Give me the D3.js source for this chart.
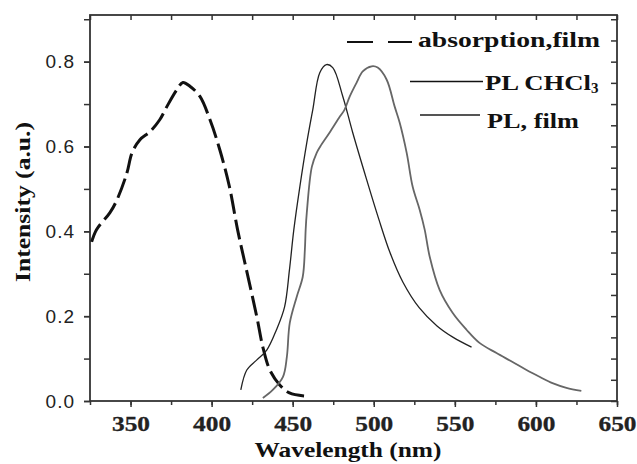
<!DOCTYPE html>
<html>
<head>
<meta charset="utf-8">
<script src="https://cdn.jsdelivr.net/npm/d3@7"></script>
<style>
  body { margin: 0; background: #fff; }
  svg { display: block; }
</style>
</head>
<body>
<div id="chart"></div>
<script>
// absorption, film (dashed)
const absWl = [326, 329, 337.3, 341.6, 347.8, 350.9, 355.8, 362, 368, 372.4, 378.6, 382.3, 386.6, 392.8, 399, 405, 411, 416, 420.5, 427.9, 431.6, 435.9, 442, 448, 457];
const absVal = [0.375, 0.404, 0.444, 0.474, 0.538, 0.585, 0.616, 0.635, 0.663, 0.694, 0.734, 0.751, 0.742, 0.718, 0.663, 0.593, 0.505, 0.404, 0.326, 0.198, 0.127, 0.073, 0.038, 0.019, 0.012];

// PL in CHCl3 (solid)
const plSolWl = [418, 421.7, 427.9, 434, 440, 445, 448, 450.7, 454.4, 458.7, 462.4, 466.7, 470.8, 474.7, 480.9, 487, 495.6, 503, 510, 518, 528, 539, 549, 560.3];
const plSolVal = [0.026, 0.073, 0.097, 0.12, 0.168, 0.222, 0.309, 0.404, 0.505, 0.609, 0.687, 0.774, 0.793, 0.786, 0.718, 0.633, 0.522, 0.43, 0.35, 0.28, 0.22, 0.177, 0.15, 0.127];

// PL, film (grey)
const plFilmWl = [431.6, 437.7, 444, 446.4, 448.2, 452.5, 456.2, 457.5, 458, 458.7, 461.8, 464.8, 467, 472.8, 479, 482, 485.2, 489.5, 493.2, 498.7, 502.4, 507.9, 512.9, 516, 520.3, 524, 528.3, 531.4, 534.5, 540.6, 548.6, 557.2, 565.2, 575.7, 585.6, 594.2, 602.2, 610.2, 618.8, 628];
const plFilmVal = [0.007, 0.026, 0.057, 0.104, 0.184, 0.246, 0.293, 0.356, 0.404, 0.444, 0.552, 0.585, 0.6, 0.633, 0.670, 0.687, 0.718, 0.751, 0.777, 0.789, 0.786, 0.758, 0.694, 0.656, 0.585, 0.505, 0.451, 0.404, 0.34, 0.262, 0.208, 0.168, 0.137, 0.113, 0.092, 0.073, 0.057, 0.042, 0.031, 0.024];

const xTicks = [350, 400, 450, 500, 550, 600, 650];
const yTicks = [0.0, 0.2, 0.4, 0.6, 0.8];
const legendLabels = ['absorption,film', 'PL CHCl', 'PL, film'];

const width = 637;
const height = 464;
const margin = { top: 15, right: 20, bottom: 63, left: 90 };

const x_scale = d3.scaleLinear()
  .domain([325, 650])
  .range([margin.left, width - margin.right]);
const y_scale = d3.scaleLinear()
  .domain([0, 0.91])
  .range([height - margin.bottom, margin.top]);

const svg = d3.select('#chart')
  .append('svg')
  .attr('width', width)
  .attr('height', height)
  .attr('viewBox', [0, 0, width, height]);

const axisColor = '#333';
const serif = '"Liberation Serif", "Times New Roman", serif';
const sans = '"Liberation Sans", Arial, sans-serif';

// minor ticks
const xMinor = d3.range(325, 651, 25);
const yMinorL = d3.range(0, 0.91, 0.1);
const yMinorR = d3.range(0, 0.91, 0.05);

// bottom axis
const xAxis = svg.append('g')
  .attr('transform', `translate(0,${y_scale(0)})`)
  .call(d3.axisBottom(x_scale).tickValues(xTicks).tickSize(6).tickPadding(9).tickFormat(d3.format('d')));
svg.append('g')
  .attr('transform', `translate(0,${y_scale(0)})`)
  .call(d3.axisBottom(x_scale).tickValues(xMinor).tickSize(4).tickFormat(''));
xAxis.selectAll('text')
  .style('font-family', serif)
  .style('font-weight', 'bold')
  .style('font-size', '21px')
  .attr('fill', '#222')
  .attr('stroke', '#222')
  .attr('stroke-width', 0.3)
  .attr('textLength', 38)
  .attr('lengthAdjust', 'spacingAndGlyphs');

// left axis
const yAxis = svg.append('g')
  .attr('transform', `translate(${margin.left},0)`)
  .call(d3.axisLeft(y_scale).tickValues(yTicks).tickSize(6).tickPadding(9).tickFormat(d3.format('.1f')));
svg.append('g')
  .attr('transform', `translate(${margin.left},0)`)
  .call(d3.axisLeft(y_scale).tickValues(yMinorL).tickSize(6).tickFormat(''));
yAxis.selectAll('text')
  .style('font-family', sans)
  .style('font-size', '19px')
  .style('font-weight', '500')
  .attr('fill', '#222')
  .attr('letter-spacing', 1);

// top axis, ticks inward
svg.append('g')
  .attr('transform', `translate(0,${margin.top})`)
  .call(d3.axisBottom(x_scale).tickValues(xMinor).tickSize(5).tickFormat(''));

// right axis, ticks inward
svg.append('g')
  .attr('transform', `translate(${width - margin.right},0)`)
  .call(d3.axisLeft(y_scale).tickValues(yMinorR).tickSize(6).tickFormat(''));

svg.selectAll('.domain').remove();
svg.selectAll('.tick line').attr('stroke', axisColor).attr('stroke-width', 1.5);

// frame
svg.append('rect')
  .attr('x', margin.left)
  .attr('y', margin.top)
  .attr('width', width - margin.right - margin.left)
  .attr('height', y_scale(0) - margin.top)
  .attr('fill', 'none')
  .attr('stroke', axisColor)
  .attr('stroke-width', 1.8);

// curves
const line = d3.line()
  .x((d) => x_scale(d[0]))
  .y((d) => y_scale(d[1]))
  .curve(d3.curveCatmullRom.alpha(0.5));

svg.append('path')
  .datum(absWl.map((w, i) => [w, absVal[i]]))
  .attr('d', line)
  .attr('fill', 'none')
  .attr('stroke', '#111')
  .attr('stroke-width', 3)
  .attr('stroke-dasharray', '20,6');

svg.append('path')
  .datum(plSolWl.map((w, i) => [w, plSolVal[i]]))
  .attr('d', line)
  .attr('fill', 'none')
  .attr('stroke', '#222')
  .attr('stroke-width', 1.3);

svg.append('path')
  .datum(plFilmWl.map((w, i) => [w, plFilmVal[i]]))
  .attr('d', line)
  .attr('fill', 'none')
  .attr('stroke', '#666')
  .attr('stroke-width', 1.8);

// legend
const legend = svg.append('g')
  .style('font-family', serif)
  .style('font-weight', 'bold')
  .style('font-size', '22px');
legend.append('line')
  .attr('x1', 347).attr('x2', 412).attr('y1', 42).attr('y2', 42)
  .attr('stroke', '#111').attr('stroke-width', 2).attr('stroke-dasharray', '26,15');
legend.append('text')
  .attr('x', 418).attr('y', 47)
  .attr('fill', '#111')
  .attr('textLength', 182).attr('lengthAdjust', 'spacingAndGlyphs')
  .text(legendLabels[0]);

legend.append('line')
  .attr('x1', 410).attr('x2', 483).attr('y1', 81.5).attr('y2', 81.5)
  .attr('stroke', '#111').attr('stroke-width', 1.4);
const t2 = legend.append('text')
  .attr('x', 485).attr('y', 90)
  .attr('fill', '#111');
t2.append('tspan')
  .attr('textLength', 106).attr('lengthAdjust', 'spacingAndGlyphs')
  .text(legendLabels[1]);
t2.append('tspan').style('font-size', '15px').attr('dy', 3).text('3');

legend.append('line')
  .attr('x1', 420).attr('x2', 480).attr('y1', 115).attr('y2', 115)
  .attr('stroke', '#555').attr('stroke-width', 2);
legend.append('text')
  .attr('x', 487).attr('y', 128)
  .attr('fill', '#111')
  .attr('textLength', 92).attr('lengthAdjust', 'spacingAndGlyphs')
  .text(legendLabels[2]);

// axis titles
svg.append('text')
  .attr('x', 348).attr('y', 457)
  .attr('text-anchor', 'middle')
  .style('font-family', serif).style('font-weight', 'bold').style('font-size', '22px')
  .attr('fill', '#111')
  .attr('textLength', 187).attr('lengthAdjust', 'spacingAndGlyphs')
  .text('Wavelength (nm)');

svg.append('text')
  .attr('transform', 'translate(30,202) rotate(-90)')
  .attr('text-anchor', 'middle')
  .style('font-family', serif).style('font-weight', 'bold').style('font-size', '22px')
  .attr('fill', '#111')
  .attr('textLength', 160).attr('lengthAdjust', 'spacingAndGlyphs')
  .text('Intensity (a.u.)');
</script>
</body>
</html>
